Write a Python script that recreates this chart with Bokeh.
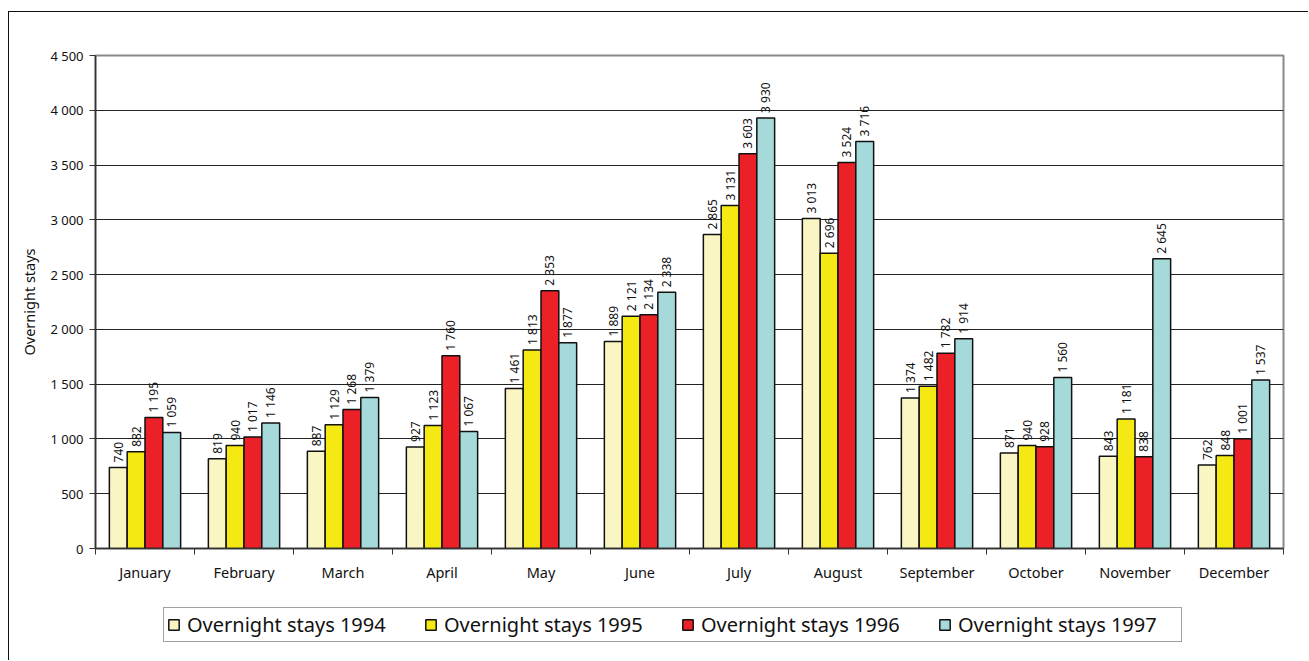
import numpy as np
from bokeh.plotting import figure
from bokeh.layouts import column
from bokeh.models import ColumnDataSource, FixedTicker, Range1d, Legend, LegendItem
from bokeh.embed import file_html
from bokeh.resources import INLINE

months = ["January", "February", "March", "April", "May", "June", "July",
          "August", "September", "October", "November", "December"]
years = ["1994", "1995", "1996", "1997"]
stays_1994 = [740, 819, 887, 927, 1461, 1889, 2865, 3013, 1374, 871, 843, 762]
stays_1995 = [882, 940, 1129, 1123, 1813, 2121, 3131, 2696, 1482, 940, 1181, 848]
stays_1996 = [1195, 1017, 1268, 1760, 2353, 2134, 3603, 3524, 1782, 928, 838, 1001]
stays_1997 = [1059, 1146, 1379, 1067, 1877, 2338, 3930, 3716, 1914, 1560, 2645, 1537]
y_ticks = [0, 500, 1000, 1500, 2000, 2500, 3000, 3500, 4000, 4500]

series = [stays_1994, stays_1995, stays_1996, stays_1997]
colors = ["#FAF6C4", "#F5E914", "#EC2127", "#A6D9DA"]
offsets = [-0.27, -0.09, 0.09, 0.27]
bar_w = 0.18
FONT = "Noto Sans"


def spaced(n):
    return f"{n:,}".replace(",", " ")


p = figure(width=1299, height=578, output_backend="svg", toolbar_location=None,
           x_range=Range1d(0, 12), y_range=Range1d(0, 4500),
           min_border_left=86, min_border_right=25, min_border_top=43,
           min_border_bottom=42)
p.background_fill_color = "white"
p.border_fill_color = "white"
p.outline_line_color = "#8a8a8a"
p.outline_line_width = 2

# x axis: labels in the middle of each month, minor ticks at the month boundaries
centers = [i + 0.5 for i in range(len(months))]
p.xaxis.ticker = FixedTicker(ticks=centers, minor_ticks=list(range(len(months) + 1)))
p.xaxis.major_label_overrides = {c: m for c, m in zip(centers, months)}
p.xaxis.major_tick_line_color = None
p.xaxis.minor_tick_in = 0
p.xaxis.minor_tick_out = 6
p.xaxis.minor_tick_line_color = "#333333"
p.xaxis.axis_line_color = "#333333"
p.xaxis.axis_line_width = 1.5
p.xaxis.major_label_text_font = FONT
p.xaxis.major_label_text_font_size = "14.5px"
p.xaxis.major_label_text_color = "#111111"
p.xaxis.major_label_standoff = 7
p.xgrid.grid_line_color = None

p.yaxis.ticker = FixedTicker(ticks=y_ticks)
p.yaxis.major_label_overrides = {t: spaced(t) for t in y_ticks}
p.yaxis.major_tick_in = 0
p.yaxis.major_tick_out = 6
p.yaxis.minor_tick_line_color = None
p.yaxis.major_tick_line_color = "#333333"
p.yaxis.axis_line_color = "#333333"
p.yaxis.axis_line_width = 1.5
p.yaxis.major_label_text_font = FONT
p.yaxis.major_label_text_font_size = "13px"
p.yaxis.major_label_text_color = "#111111"
p.yaxis.major_label_standoff = 6
p.yaxis.axis_label = "Overnight stays"
p.yaxis.axis_label_text_font = FONT
p.yaxis.axis_label_text_font_size = "14.5px"
p.yaxis.axis_label_text_font_style = "normal"
p.yaxis.axis_label_text_color = "#111111"
p.yaxis.axis_label_standoff = 8
p.ygrid.grid_line_color = "#222222"
p.ygrid.grid_line_width = 1.2

sources = []
for vals, col, off in zip(series, colors, offsets):
    src = ColumnDataSource(dict(
        x=[i + 0.5 + off for i in range(len(months))],
        top=vals,
        label=[spaced(v) for v in vals],
    ))
    sources.append(src)
    p.vbar(x="x", top="top", width=bar_w, source=src, fill_color=col,
           line_color="#111111", line_width=1.5)
    p.text(x="x", y="top", text="label", source=src, angle=np.pi / 2,
           text_align="left", text_baseline="middle", y_offset=-5,
           text_font_size="12px", text_color="#111111",
           text_font={"value": FONT})

# legend strip underneath the chart; its renderers are hidden, only the keys show
leg = figure(width=1299, height=70, output_backend="svg", toolbar_location=None,
             x_range=Range1d(100, 101), y_range=Range1d(-2, -1), min_border=0,
             x_axis_location=None, y_axis_location=None)
leg.grid.grid_line_color = None
leg.outline_line_color = None
leg.background_fill_color = "white"
leg.border_fill_color = "white"

items = []
for yr, col, src in zip(years, colors, sources):
    r = leg.vbar(x="x", top="top", width=bar_w, source=src, fill_color=col,
                 line_color="#111111", line_width=1.5, visible=False)
    items.append(LegendItem(label=f"Overnight stays {yr}", renderers=[r]))

legend = Legend(items=items, orientation="horizontal", location=(68, 18),
                label_text_font=FONT, label_text_font_size="20px",
                label_text_color="#111111", glyph_width=13, glyph_height=13,
                label_standoff=7, label_width=220, spacing=17, padding=3, margin=0,
                border_line_color="#444444", border_line_width=1.5,
                background_fill_alpha=1, click_policy="none")
leg.add_layout(legend)

page = column(p, leg, spacing=0,
              styles={"margin-left": "8px", "margin-top": "11px",
                      "border-left": "1.5px solid #111111",
                      "border-top": "1.5px solid #111111"})

open("out.html", "w").write(file_html(page, INLINE))
